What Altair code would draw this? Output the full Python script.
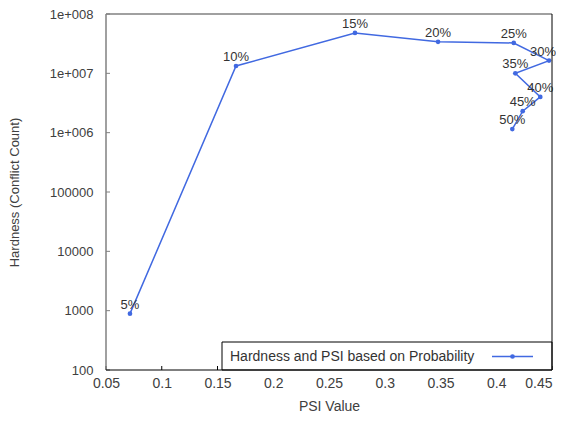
import altair as alt
import pandas as pd

labels = ["5%", "10%", "15%", "20%", "25%", "30%", "35%", "40%", "45%", "50%"]
psi = [0.0715, 0.1666, 0.2733, 0.3478, 0.4157, 0.4473, 0.4171, 0.4395, 0.4237, 0.4144]
hardness = [890, 1.33e7, 4.8e7, 3.4e7, 3.25e7, 1.64e7, 1.0e7, 4.0e6, 2.3e6, 1.15e6]
x_ticks = [0.05, 0.1, 0.15, 0.2, 0.25, 0.3, 0.35, 0.4, 0.45]
y_ticks = [100, 1000, 10000, 100000, 1000000, 10000000, 100000000]
legend_label = "Hardness and PSI based on Probability"

BLUE = "#4169E1"
FONT = "Liberation Sans"
W, H = 446, 356

df = pd.DataFrame({"idx": list(range(len(labels))), "label": labels,
                   "psi": psi, "hardness": hardness})
xt = pd.DataFrame({"v": x_ticks})
yt = pd.DataFrame({"v": y_ticks})
one = alt.Data(values=[{"a": 1}])

xscale = alt.Scale(domain=[0.05, 0.45], nice=False, zero=False)
yscale = alt.Scale(type="log", domain=[100, 1e8], nice=False)

xaxis = alt.Axis(values=x_ticks, format="~g", title="PSI Value",
                 labelPadding=6, titlePadding=9, labelFlush=False,
                 labelFontSize=14, titleFontSize=14,
                 labelAlign={"expr": "datum.value > 0.44 ? 'right' : 'center'"})
yaxis = alt.Axis(values=y_ticks, title="Hardness (Conflict Count)",
                 labelExpr="datum.value >= 1000000 ? '1e+00' + round(log(datum.value)/LN10) : format(datum.value, 'd')",
                 labelPadding=13, titlePadding=28, labelFlush=False,
                 labelFontSize=13, titleFontSize=13)

X = alt.X("psi:Q", scale=xscale, axis=xaxis)
Y = alt.Y("hardness:Q", scale=yscale, axis=yaxis)

base = alt.Chart(df)
line = base.mark_line(color=BLUE, strokeWidth=1.5).encode(x=X, y=Y, order=alt.Order("idx:Q"))
pts = base.mark_point(filled=True, size=22, color=BLUE, opacity=1).encode(x=X, y=Y)
txt = base.transform_filter("datum.label != '30%'").mark_text(
    dy=-9, fontSize=13, font=FONT, color="#333333").encode(x=X, y=Y, text="label:N")
txt_edge = base.transform_filter("datum.label == '30%'").mark_text(
    dy=-9, dx=-6, fontSize=13, font=FONT, color="#333333").encode(x=X, y=Y, text="label:N")

xticks = alt.Chart(xt).mark_rule(color="#000000", strokeWidth=1).encode(
    x=alt.X("v:Q", scale=xscale), y=alt.value(H - 4), y2=alt.value(H))
yticks = alt.Chart(yt).mark_rule(color="#808080", strokeWidth=1).encode(
    y=alt.Y("v:Q", scale=yscale), x=alt.value(0), x2=alt.value(4))

frame_b = alt.Chart(one).mark_rule(color="#000000", strokeWidth=1).encode(
    x=alt.value(0), x2=alt.value(W), y=alt.value(H))
frame_r = alt.Chart(one).mark_rule(color="#000000", strokeWidth=1).encode(
    x=alt.value(W), y=alt.value(0), y2=alt.value(H))
frame_t = alt.Chart(one).mark_rule(color="#808080", strokeWidth=1.5).encode(
    x=alt.value(0), x2=alt.value(W), y=alt.value(0))
frame_l = alt.Chart(one).mark_rule(color="#808080", strokeWidth=1.5).encode(
    x=alt.value(0), y=alt.value(0), y2=alt.value(H))

leg_box = alt.Chart(one).mark_rect(fill="white", stroke="#000000", strokeWidth=1).encode(
    x=alt.value(116), x2=alt.value(W), y=alt.value(328), y2=alt.value(H))
leg_text = alt.Chart(one).mark_text(align="left", baseline="middle", fontSize=14, font=FONT,
                                    color="#333333").encode(
    x=alt.value(124), y=alt.value(342.5), text=alt.value(legend_label))
leg_line = alt.Chart(one).mark_rule(color=BLUE, strokeWidth=1.5).encode(
    x=alt.value(386), x2=alt.value(427), y=alt.value(342.5))
leg_pt = alt.Chart(one).mark_point(filled=True, size=22, color=BLUE, opacity=1).encode(
    x=alt.value(406.5), y=alt.value(342.5))

chart = alt.layer(
    yticks, xticks, line, pts, txt, txt_edge, leg_box, leg_text, leg_line, leg_pt,
    frame_t, frame_l, frame_b, frame_r
).properties(
    width=W, height=H,
    padding={"left": 98, "top": 6, "right": 4, "bottom": 43},
    autosize=alt.AutoSizeParams(type="none"),
    background="white",
).configure_view(stroke=None).configure_axis(
    domain=False, ticks=False, grid=False,
    labelFont=FONT, labelColor="#404040",
    titleFont=FONT, titleColor="#404040", titleFontWeight="normal",
)

chart.save("out.html", embed_options={"renderer": "svg", "actions": False})
